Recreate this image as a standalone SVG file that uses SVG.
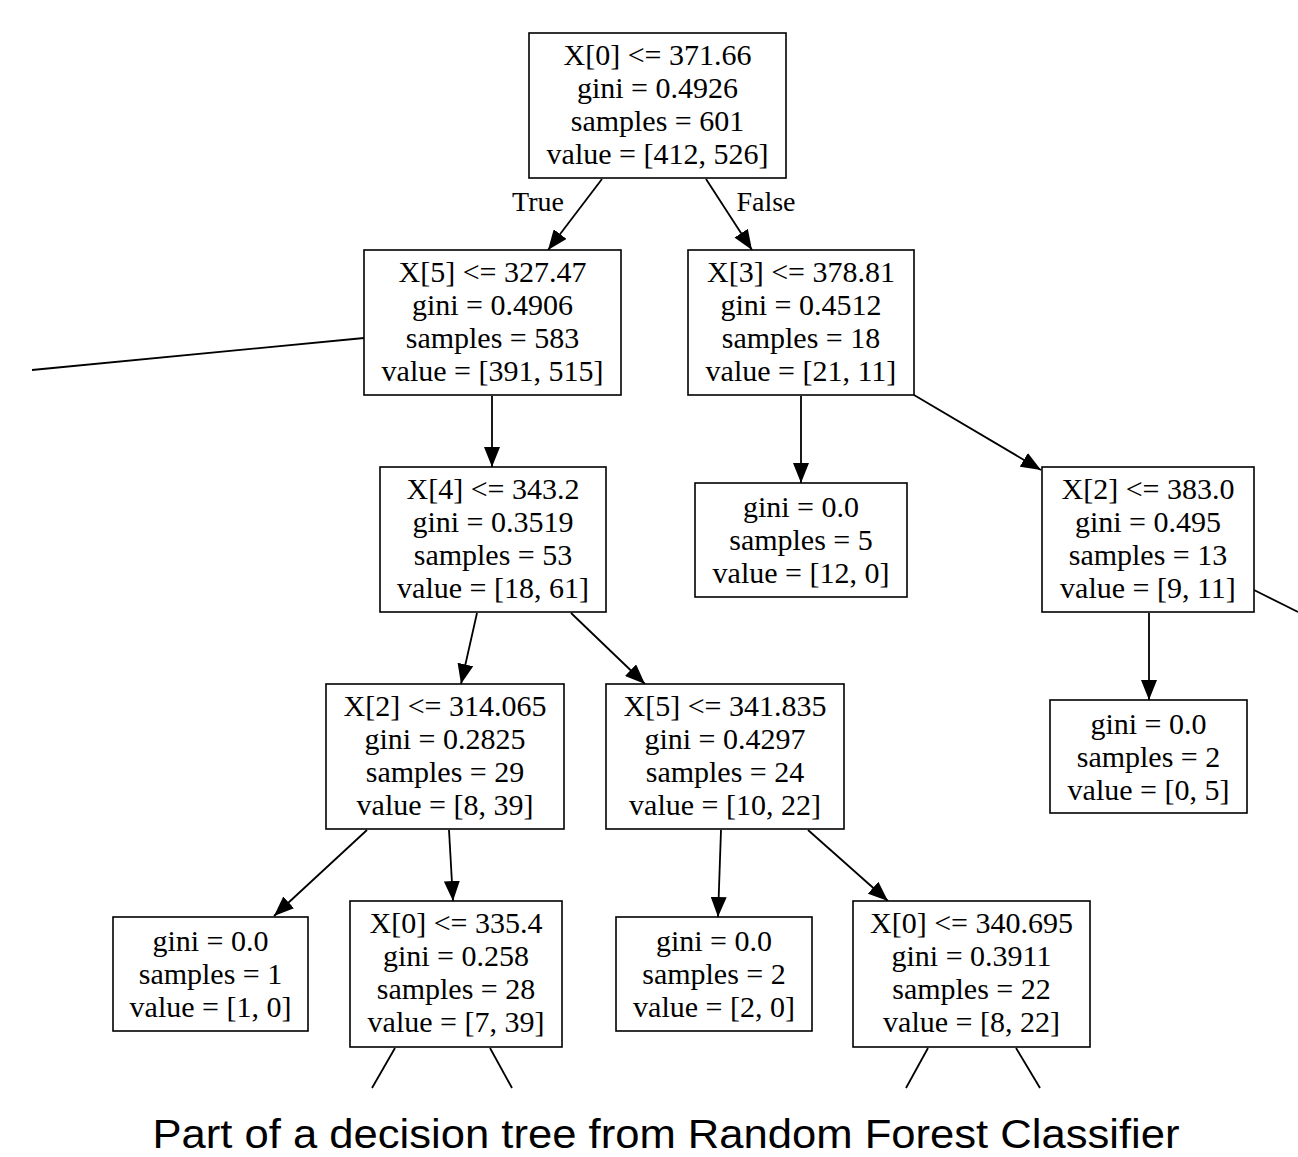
<svg xmlns="http://www.w3.org/2000/svg" width="1298" height="1157" viewBox="0 0 1298 1157">
<style>
.box{fill:#fff;stroke:#000;stroke-width:1.6}
.t{font-family:"Liberation Serif","Times New Roman",serif;font-size:30px;fill:#000;text-anchor:middle}
.e{stroke:#000;stroke-width:1.8;fill:none}
.lbl{font-family:"Liberation Serif","Times New Roman",serif;font-size:28px;fill:#000;text-anchor:middle}
.cap{font-family:"Liberation Sans",Arial,sans-serif;font-size:40px;fill:#000;text-anchor:middle}
</style>
<defs>
<marker id="arr" markerUnits="userSpaceOnUse" markerWidth="22" markerHeight="16" refX="20" refY="8" orient="auto">
<path d="M0,0 L20,8 L0,16 Z" fill="#000"/>
</marker>
</defs>
<rect width="1298" height="1157" fill="#fff"/>
<g id="connectors">
<line class="e" x1="602" y1="179" x2="548" y2="250" marker-end="url(#arr)"/>
<line class="e" x1="706" y1="179" x2="752" y2="250" marker-end="url(#arr)"/>
<line class="e" x1="364" y1="338" x2="32" y2="370"/>
<line class="e" x1="492" y1="396" x2="492" y2="467" marker-end="url(#arr)"/>
<line class="e" x1="477" y1="613" x2="461" y2="684" marker-end="url(#arr)"/>
<line class="e" x1="571" y1="613" x2="645" y2="684" marker-end="url(#arr)"/>
<line class="e" x1="801" y1="396" x2="801" y2="483" marker-end="url(#arr)"/>
<line class="e" x1="914" y1="395" x2="1041" y2="470" marker-end="url(#arr)"/>
<line class="e" x1="1149" y1="613" x2="1149" y2="700" marker-end="url(#arr)"/>
<line class="e" x1="1254" y1="590" x2="1298" y2="612"/>
<line class="e" x1="367" y1="830" x2="274" y2="916" marker-end="url(#arr)"/>
<line class="e" x1="449" y1="830" x2="453" y2="901" marker-end="url(#arr)"/>
<line class="e" x1="721" y1="830" x2="718" y2="917" marker-end="url(#arr)"/>
<line class="e" x1="808" y1="830" x2="888" y2="901" marker-end="url(#arr)"/>
<line class="e" x1="395" y1="1048" x2="372" y2="1088"/>
<line class="e" x1="490" y1="1048" x2="512" y2="1088"/>
<line class="e" x1="928" y1="1048" x2="906" y2="1088"/>
<line class="e" x1="1016" y1="1048" x2="1040" y2="1088"/>
<text class="lbl" x="538" y="211">True</text>
<text class="lbl" x="766" y="211">False</text>
</g>
<g id="n0">
<rect class="box" x="529" y="33" width="257" height="145"/>
<text class="t" x="657.5" y="65">X[0] &lt;= 371.66</text>
<text class="t" x="657.5" y="98">gini = 0.4926</text>
<text class="t" x="657.5" y="131">samples = 601</text>
<text class="t" x="657.5" y="164">value = [412, 526]</text>
</g>
<g id="n1">
<rect class="box" x="364" y="250" width="257" height="145"/>
<text class="t" x="492.5" y="282">X[5] &lt;= 327.47</text>
<text class="t" x="492.5" y="315">gini = 0.4906</text>
<text class="t" x="492.5" y="348">samples = 583</text>
<text class="t" x="492.5" y="381">value = [391, 515]</text>
</g>
<g id="n2">
<rect class="box" x="688" y="250" width="226" height="145"/>
<text class="t" x="801" y="282">X[3] &lt;= 378.81</text>
<text class="t" x="801" y="315">gini = 0.4512</text>
<text class="t" x="801" y="348">samples = 18</text>
<text class="t" x="801" y="381">value = [21, 11]</text>
</g>
<g id="n3">
<rect class="box" x="380" y="467" width="226" height="145"/>
<text class="t" x="493" y="499">X[4] &lt;= 343.2</text>
<text class="t" x="493" y="532">gini = 0.3519</text>
<text class="t" x="493" y="565">samples = 53</text>
<text class="t" x="493" y="598">value = [18, 61]</text>
</g>
<g id="n4">
<rect class="box" x="695" y="483" width="212" height="114"/>
<text class="t" x="801" y="517">gini = 0.0</text>
<text class="t" x="801" y="550">samples = 5</text>
<text class="t" x="801" y="583">value = [12, 0]</text>
</g>
<g id="n5">
<rect class="box" x="1042" y="467" width="212" height="145"/>
<text class="t" x="1148" y="499">X[2] &lt;= 383.0</text>
<text class="t" x="1148" y="532">gini = 0.495</text>
<text class="t" x="1148" y="565">samples = 13</text>
<text class="t" x="1148" y="598">value = [9, 11]</text>
</g>
<g id="n6">
<rect class="box" x="326" y="684" width="238" height="145"/>
<text class="t" x="445" y="716">X[2] &lt;= 314.065</text>
<text class="t" x="445" y="749">gini = 0.2825</text>
<text class="t" x="445" y="782">samples = 29</text>
<text class="t" x="445" y="815">value = [8, 39]</text>
</g>
<g id="n7">
<rect class="box" x="606" y="684" width="238" height="145"/>
<text class="t" x="725" y="716">X[5] &lt;= 341.835</text>
<text class="t" x="725" y="749">gini = 0.4297</text>
<text class="t" x="725" y="782">samples = 24</text>
<text class="t" x="725" y="815">value = [10, 22]</text>
</g>
<g id="n8">
<rect class="box" x="1050" y="700" width="197" height="113"/>
<text class="t" x="1148.5" y="734">gini = 0.0</text>
<text class="t" x="1148.5" y="767">samples = 2</text>
<text class="t" x="1148.5" y="800">value = [0, 5]</text>
</g>
<g id="n9">
<rect class="box" x="113" y="917" width="195" height="114"/>
<text class="t" x="210.5" y="951">gini = 0.0</text>
<text class="t" x="210.5" y="984">samples = 1</text>
<text class="t" x="210.5" y="1017">value = [1, 0]</text>
</g>
<g id="n10">
<rect class="box" x="350" y="901" width="212" height="146"/>
<text class="t" x="456" y="933">X[0] &lt;= 335.4</text>
<text class="t" x="456" y="966">gini = 0.258</text>
<text class="t" x="456" y="999">samples = 28</text>
<text class="t" x="456" y="1032">value = [7, 39]</text>
</g>
<g id="n11">
<rect class="box" x="616" y="917" width="196" height="114"/>
<text class="t" x="714" y="951">gini = 0.0</text>
<text class="t" x="714" y="984">samples = 2</text>
<text class="t" x="714" y="1017">value = [2, 0]</text>
</g>
<g id="n12">
<rect class="box" x="853" y="901" width="237" height="146"/>
<text class="t" x="971.5" y="933">X[0] &lt;= 340.695</text>
<text class="t" x="971.5" y="966">gini = 0.3911</text>
<text class="t" x="971.5" y="999">samples = 22</text>
<text class="t" x="971.5" y="1032">value = [8, 22]</text>
</g>
<text class="cap" x="666" y="1148" textLength="1027" lengthAdjust="spacingAndGlyphs">Part of a decision tree from Random Forest Classifier</text>
</svg>
